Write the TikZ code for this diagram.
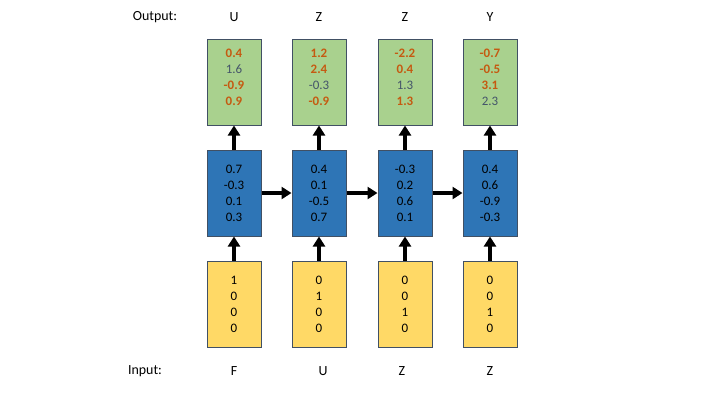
\documentclass[tikz,border=0pt]{standalone}
\usepackage{fontspec}
\setmainfont{Carlito}
\usetikzlibrary{arrows.meta}
\definecolor{grn}{RGB}{169,209,142}
\definecolor{blu}{RGB}{46,117,182}
\definecolor{yel}{RGB}{255,217,102}
\definecolor{edge}{RGB}{65,80,100}
\definecolor{hot}{RGB}{197,90,17}
\definecolor{cool}{RGB}{68,84,106}
\tikzset{
  cell/.style={draw=edge, line width=1bp, minimum width=54bp, minimum height=86bp, inner sep=0pt, align=center, font=\fontsize{13}{16}\selectfont},
  outcell/.style={cell, fill=grn, text depth=10bp},
  hidcell/.style={cell, fill=blu},
  incell/.style={cell, fill=yel},
  flow/.style={line width=4bp, -{Triangle[width=12bp,length=10bp]}},
  lbl/.style={font=\fontsize{14}{16}\selectfont, inner sep=0pt}
}
\newcommand{\hv}[1]{\textbf{\textcolor{hot}{#1}}}
\newcommand{\cv}[1]{\textcolor{cool}{#1}}
\begin{document}
\begin{tikzpicture}[x=1bp,y=-1bp]
\useasboundingbox (0,0) rectangle (720,405);
% output cells
\node[outcell] (o1) at (234,82) {\hv{0.4}\\\cv{1.6}\\\hv{-0.9}\\\hv{0.9}};
\node[outcell] (o2) at (319,82) {\hv{1.2}\\\hv{2.4}\\\cv{-0.3}\\\hv{-0.9}};
\node[outcell] (o3) at (405,82) {\hv{-2.2}\\\hv{0.4}\\\cv{1.3}\\\hv{1.3}};
\node[outcell] (o4) at (490,82) {\hv{-0.7}\\\hv{-0.5}\\\hv{3.1}\\\cv{2.3}};
% hidden cells
\node[hidcell] (h1) at (234,193) {0.7\\-0.3\\0.1\\0.3};
\node[hidcell] (h2) at (319,193) {0.4\\0.1\\-0.5\\0.7};
\node[hidcell] (h3) at (405,193) {-0.3\\0.2\\0.6\\0.1};
\node[hidcell] (h4) at (490,193) {0.4\\0.6\\-0.9\\-0.3};
% input cells
\node[incell] (i1) at (234,304) {1\\0\\0\\0};
\node[incell] (i2) at (319,304) {0\\1\\0\\0};
\node[incell] (i3) at (405,304) {0\\0\\1\\0};
\node[incell] (i4) at (490,304) {0\\0\\1\\0};
% arrows
\foreach \k in {1,2,3,4}{
  \draw[flow] (i\k.north) -- (h\k.south);
  \draw[flow] (h\k.north) -- (o\k.south);
}
\draw[flow] (h1.east) -- (h2.west);
\draw[flow] (h2.east) -- (h3.west);
\draw[flow] (h3.east) -- (h4.west);
% labels
\node[lbl] (outlbl) at (155,17) {Output:};
\node[lbl] (ou1) at (234,17) {U};
\node[lbl] (ou2) at (319,17) {Z};
\node[lbl] (ou3) at (405,17) {Z};
\node[lbl] (ou4) at (490,17) {Y};
\node[lbl] (inlbl) at (145,371) {Input:};
\node[lbl] (in1) at (234,371) {F};
\node[lbl] (in2) at (323,371) {U};
\node[lbl] (in3) at (402,371) {Z};
\node[lbl] (in4) at (490,371) {Z};
\end{tikzpicture}
\end{document}
